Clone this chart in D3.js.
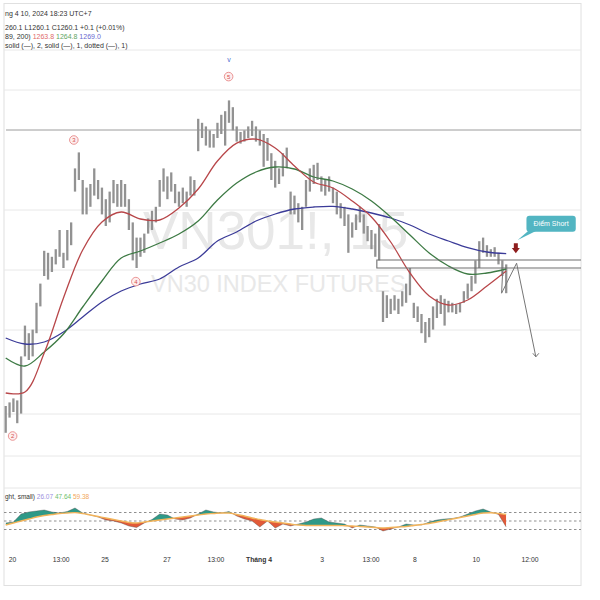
<!DOCTYPE html>
<html><head><meta charset="utf-8">
<script src="https://cdn.jsdelivr.net/npm/d3@7"></script>
<style>
body{margin:0;background:#fff}
svg{display:block}
text{font-family:"Liberation Sans",Arial,sans-serif}
</style>
</head><body>
<svg id="c" width="600" height="600"></svg>
<script>
// ---------- DATA ----------
const barHigh = [
1231.0,1231.9,1232.9,1232.4,1243.4,1251.1,1249.2,1250.1,1256.8,1261.6,
1269.8,1269.3,1268.3,1270.2,1275.0,1269.3,1275.0,1276.9,1290.4,1294.4,
1287.5,1285.6,1286.5,1290.4,1287.5,1285.6,1282.7,1284.6,1287.5,1286.5,
1287.5,1286.5,1282.7,1276.9,1273.1,1273.1,1274.1,1277.9,1279.8,1280.8,
1287.5,1290.4,1288.4,1289.4,1286.5,1284.6,1285.6,1284.6,1288.4,1287.5,
1302.8,1301.8,1300.9,1299.9,1299.0,1301.8,1303.8,1304.7,1307.4,1305.7,
1300.9,1299.5,1299.9,1300.9,1302.3,1300.9,1299.9,1299.0,1298.0,1294.2,
1292.3,1290.4,1294.2,1295.6,1284.6,1283.6,1281.7,1280.8,1287.5,1290.4,
1291.3,1291.8,1288.4,1287.5,1288.4,1285.6,1284.6,1281.7,1280.8,1278.9,
1276.9,1278.9,1280.8,1278.9,1276.0,1275.0,1274.1,1276.5,1259.7,1258.7,
1257.8,1258.7,1257.8,1259.7,1261.6,1265.5,1256.8,1255.9,1254.0,1252.0,
1253.0,1255.9,1257.8,1258.7,1257.8,1257.3,1256.8,1256.4,1256.8,1259.7,
1261.6,1263.5,1267.4,1272.2,1273.1,1271.2,1270.2,1270.7,1269.3,1267.4,
1266.4];
const barLow = [
1224.3,1228.1,1229.5,1226.7,1229.1,1243.4,1242.5,1243.4,1249.2,1255.9,
1263.5,1262.6,1264.5,1266.4,1268.3,1265.5,1267.4,1271.2,1284.6,1287.5,
1278.9,1278.9,1280.8,1283.6,1282.7,1278.9,1276.0,1276.9,1281.7,1280.8,
1280.8,1280.8,1275.0,1267.4,1265.5,1268.3,1269.3,1274.1,1275.0,1276.9,
1280.8,1284.6,1282.7,1284.6,1281.7,1280.8,1281.7,1280.8,1283.6,1283.6,
1294.7,1298.0,1296.1,1295.6,1295.6,1298.0,1299.0,1296.1,1301.8,1299.9,
1297.1,1296.6,1297.1,1298.0,1298.5,1297.1,1296.1,1290.8,1292.3,1287.5,
1285.6,1286.5,1288.4,1290.4,1278.9,1278.9,1276.9,1275.0,1280.8,1284.6,
1286.5,1287.5,1284.6,1283.6,1284.6,1281.7,1278.9,1277.9,1276.0,1269.3,
1273.1,1275.0,1276.9,1274.1,1272.2,1270.2,1268.3,1267.4,1252.0,1253.0,
1254.0,1254.9,1254.0,1255.9,1256.8,1258.7,1253.0,1252.0,1249.2,1246.8,
1248.2,1250.1,1253.0,1254.0,1251.1,1254.4,1254.4,1254.0,1254.4,1256.8,
1257.8,1259.7,1261.6,1265.5,1269.3,1268.3,1268.3,1268.3,1266.4,1263.5,
1259.2];
// moving averages, one value every 5 bars
const maStep = 5;
const maRed = [1234.25,1234.5,1244.25,1258,1270,1277,1279.5,1277.75,1277.5,1280.5,1285.25,1292.25,1296.7,1297.7,1295.5,1291,1287,1285.5,1282.25,1278.25,1272,1264.25,1258.5,1256.25,1257.5,1261,1264.75];
const maGreen = [1243,1241,1244.5,1249,1255.75,1262.25,1268,1269.75,1271.75,1274,1277.25,1282.5,1286.75,1289.5,1290.75,1290.25,1288.25,1287.25,1285.25,1282.25,1278.25,1273.75,1269.25,1266,1264,1264.25,1265.25];
const maBlue = [1248,1246.5,1247,1249.5,1253.25,1257,1259.75,1261.5,1262.75,1265.75,1268,1272.25,1274.5,1277.25,1279,1280.25,1280.75,1280.9,1280.25,1279.25,1278,1276.25,1274,1272.25,1270.6,1269.5,1269.1];
// oscillator, one value every 2 bars
const oscStep = 2;
const oscValue = [45.3,47.6,66.5,71.2,73.5,75.9,71.2,68.8,72.4,80.6,
68.8,64.1,59.4,52.4,50.0,45.3,38.2,34.7,45.3,53.5,
66.5,64.1,54.7,52.4,57.1,66.5,75.9,71.2,68.8,72.4,
61.8,54.7,50.0,35.9,50.0,33.5,42.9,38.2,42.9,47.6,
54.7,57.1,47.6,45.3,42.9,33.5,40.6,38.2,35.9,26.5,
31.2,35.9,42.9,40.6,40.6,47.6,52.4,54.7,55.9,59.4,
66.5,73.5,78.2,71.2,65.3,35.9];
const oscSignal = [40.6,45.3,50.0,54.7,59.4,62.9,65.3,67.6,68.8,69.8,
67.6,64.1,60.6,57.1,53.5,50.0,46.5,45.3,47.6,50.0,
52.4,54.7,57.1,59.4,61.8,64.1,66.5,67.6,68.8,68.8,
65.3,61.8,57.1,53.5,50.0,47.6,45.3,42.9,40.6,39.4,
39.4,39.4,39.4,39.4,38.9,38.2,37.1,35.9,34.7,33.5,
34.7,35.9,37.1,39.4,41.8,44.1,47.6,51.2,54.7,58.2,
61.8,65.3,68.8,69.3,67.9,65.3];
const oscBands = [70,50,30];
const gridPrices = [1320,1310,1280,1265,1250,1229,1218.5];
const levelPrice = 1300;
const timeTickIdx = [1.8,14.4,25.8,41.9,54.6,65.8,82.2,94.9,106.3,122.2,136.2];
const timeTickLabels = ["20","13:00","25","27","13:00","Tháng 4","3","13:00","8","10","12:00"];
const timeTickBold = [false,false,false,false,false,true,false,false,false,false,false];
const waveIdx = [1.8,17.7,33.8,57.9];
const wavePrice = [1223.5,1297.5,1262.1,1313.35];
const waveText = ["2","3","4","5"];
const markIdx = 57.98, markPrice = 1317.75;
const zoneTop = 1267.5, zoneBottom = 1265.5, zoneStartIdx = 96.4;
const projIdx = [129.1,128.8,132.7,137.7];
const projPrice = [1265,1259.2,1266.7,1243.3];
const arrowIdx = 132.5, arrowTop = 1271.7, arrowBottom = 1269.2;
const calloutIdx = 133, calloutPrice = 1272.5, calloutText = "Điểm Short";
const headerDate = "ng 4 10, 2024 18:23 UTC+7";
const headerOHLC = "260.1  L1260.1  C1260.1  +0.1 (+0.01%)";
const headerMAprefix = "89, 200)";
const headerMAvals = ["1263.8","1264.8","1269.0"];
const headerStyle = "solid (—), 2, solid (—), 1, dotted (—), 1)";
const oscHeaderPrefix = "ght, small)";
const oscHeaderVals = ["26.07","47.64","59.38"];
const watermark1 = "VN301!, 15", watermark2 = "VN30 INDEX FUTURES";

// ---------- SCALES ----------
const svg = d3.select("#c");
const L = 4, R = 581;
const x = d3.scaleLinear().domain([0,130]).range([5.7,506.2]);
const y = d3.scaleLinear().domain([1250,1300]).range([330,130]);
const yo = d3.scaleLinear().domain([30,70]).range([529.5,512.5]);

// frame
svg.append("rect").attr("x",L).attr("y",3.5).attr("width",R-L).attr("height",582)
  .attr("fill","#fff").attr("stroke","#e0e0e0");
// grid
svg.append("g").selectAll("line").data(gridPrices).join("line")
  .attr("x1",L).attr("x2",R).attr("y1",d=>y(d)).attr("y2",d=>y(d))
  .attr("stroke","#e8e8e8").attr("stroke-width",1);
svg.append("line").attr("x1",L).attr("x2",R).attr("y1",488).attr("y2",488)
  .attr("stroke","#e6e6e6");

// watermark
svg.append("text").attr("x",143).attr("y",248.5).attr("font-size",53)
  .attr("fill","#e8e8e8").text(watermark1);
svg.append("text").attr("x",151).attr("y",291.5).attr("font-size",23.5)
  .attr("fill","#e8e8e8").text(watermark2);

// level line
svg.append("line").attr("x1",L+2).attr("x2",R).attr("y1",y(levelPrice)).attr("y2",y(levelPrice))
  .attr("stroke","#9c9c9c").attr("stroke-width",1);

// bars
svg.append("g").selectAll("line").data(barHigh).join("line")
  .attr("x1",(d,i)=>x(i)).attr("x2",(d,i)=>x(i))
  .attr("y1",d=>y(d)).attr("y2",(d,i)=>y(barLow[i]))
  .attr("stroke","#929292").attr("stroke-width",2.3);

// moving averages
const maLine = d3.line().curve(d3.curveCatmullRom).x((d,i)=>x(i*maStep)).y(d=>y(d));
[[maBlue,"#3b3b98"],[maGreen,"#3d7a44"],[maRed,"#b8474a"]].forEach(([s,c])=>{
  svg.append("path").attr("d",maLine(s)).attr("fill","none").attr("stroke",c).attr("stroke-width",1.3);
});

// zone rectangle
svg.append("path")
  .attr("d",`M${R},${y(zoneTop)}H${x(zoneStartIdx)}V${y(zoneBottom)}H${R}`)
  .attr("fill","none").attr("stroke","#6f6f6f").attr("stroke-width",1.1);

// projection path
const pts = projIdx.map((d,i)=>[x(d),y(projPrice[i])]);
svg.append("path").attr("d",d3.line()(pts)).attr("fill","none").attr("stroke","#767676").attr("stroke-width",1);
const e = pts[pts.length-1];
svg.append("path").attr("d",`M${e[0]-3},${e[1]-3.5}L${e[0]},${e[1]}L${e[0]+3},${e[1]-3.5}`)
  .attr("fill","none").attr("stroke","#767676").attr("stroke-width",1);

// red arrow
const ax = x(arrowIdx), at = y(arrowTop), ab = y(arrowBottom);
svg.append("path").attr("d",`M${ax-2},${at}H${ax+2}V${at+4.8}H${ax+4}L${ax},${ab}L${ax-4},${at+4.8}H${ax-2}Z`)
  .attr("fill","#8e1d1d");

// callout
const cx = x(calloutIdx), cy = y(calloutPrice);
const bx = cx+8.7, by = cy-24.3, bw = 49.3, bh = 16;
svg.append("path").attr("d",`M${bx+2},${by+bh-1}L${cx},${cy}L${bx+10},${by+bh-1}Z`).attr("fill","#52b5c2");
svg.append("rect").attr("x",bx).attr("y",by).attr("width",bw).attr("height",bh).attr("rx",3)
  .attr("fill","#52b5c2");
svg.append("text").attr("x",bx+bw/2).attr("y",by+bh/2+2.4).attr("text-anchor","middle")
  .attr("font-size",7).attr("fill","#fff").text(calloutText);

// wave labels
const wg = svg.append("g").selectAll("g").data(waveText).join("g")
  .attr("transform",(d,i)=>`translate(${x(waveIdx[i])},${y(wavePrice[i])})`);
wg.append("circle").attr("r",4.3).attr("fill","#fdeeee").attr("stroke","#e47c7c").attr("stroke-width",0.8);
wg.append("text").attr("text-anchor","middle").attr("y",2.1).attr("font-size",6).attr("fill","#d64f4f").text(d=>d);
svg.append("text").attr("x",x(markIdx)).attr("y",y(markPrice)+2.5).attr("text-anchor","middle")
  .attr("font-size",7).attr("fill","#4a6fd0").text("v");

// header
const hdr = svg.append("g").attr("font-size",7).attr("fill","#333");
hdr.append("text").attr("x",5).attr("y",15.5).text(headerDate);
hdr.append("text").attr("x",5).attr("y",29.5).text(headerOHLC);
const t3 = hdr.append("text").attr("x",5).attr("y",38.5);
t3.append("tspan").text(headerMAprefix+" ");
["#e06b6b","#5fa55f","#6868cf"].forEach((c,i)=>t3.append("tspan").attr("fill",c).text(headerMAvals[i]+"  "));
hdr.append("text").attr("x",5).attr("y",47.5).text(headerStyle);

// oscillator pane
svg.append("g").selectAll("line").data(oscBands).join("line")
  .attr("x1",L).attr("x2",R).attr("y1",d=>yo(d)).attr("y2",d=>yo(d))
  .attr("stroke","#8f8f8f").attr("stroke-dasharray","2.5,2.5").attr("stroke-width",1);
const ox = (d,i)=>x(i*oscStep);
const defs = svg.append("defs");
defs.append("clipPath").attr("id","above").append("path")
  .attr("d",d3.area().x(ox).y0(490).y1(d=>yo(d))(oscSignal));
defs.append("clipPath").attr("id","below").append("path")
  .attr("d",d3.area().x(ox).y0(d=>yo(d)).y1(545)(oscSignal));
const band = d3.area().x(ox).y0((d,i)=>yo(oscSignal[i])).y1(d=>yo(d));
svg.append("path").attr("d",band(oscValue)).attr("fill","#2f9987").attr("clip-path","url(#above)");
svg.append("path").attr("d",band(oscValue)).attr("fill","#e25a38").attr("clip-path","url(#below)");
svg.append("path").attr("d",d3.line().x(ox).y(d=>yo(d))(oscValue)).attr("fill","none")
  .attr("stroke","#444").attr("stroke-width",0.6).attr("opacity",0.6);
svg.append("path").attr("d",d3.line().curve(d3.curveMonotoneX).x(ox).y(d=>yo(d))(oscSignal)).attr("fill","none")
  .attr("stroke","#f2b35a").attr("stroke-width",1.4);

const oh = svg.append("text").attr("x",5).attr("y",499).attr("font-size",6.5).attr("fill","#333");
oh.append("tspan").text(oscHeaderPrefix+"  ");
["#9d8fe0","#6fbf6f","#f2a65a"].forEach((c,i)=>oh.append("tspan").attr("fill",c).text(oscHeaderVals[i]+"  "));

// time axis
svg.append("g").selectAll("text").data(timeTickLabels).join("text")
  .attr("x",(d,i)=>x(timeTickIdx[i])).attr("y",561.5).attr("text-anchor","middle")
  .attr("font-size",6.8).attr("fill","#333")
  .attr("font-weight",(d,i)=>timeTickBold[i]?"bold":"normal").text(d=>d);
</script>
</body></html>
